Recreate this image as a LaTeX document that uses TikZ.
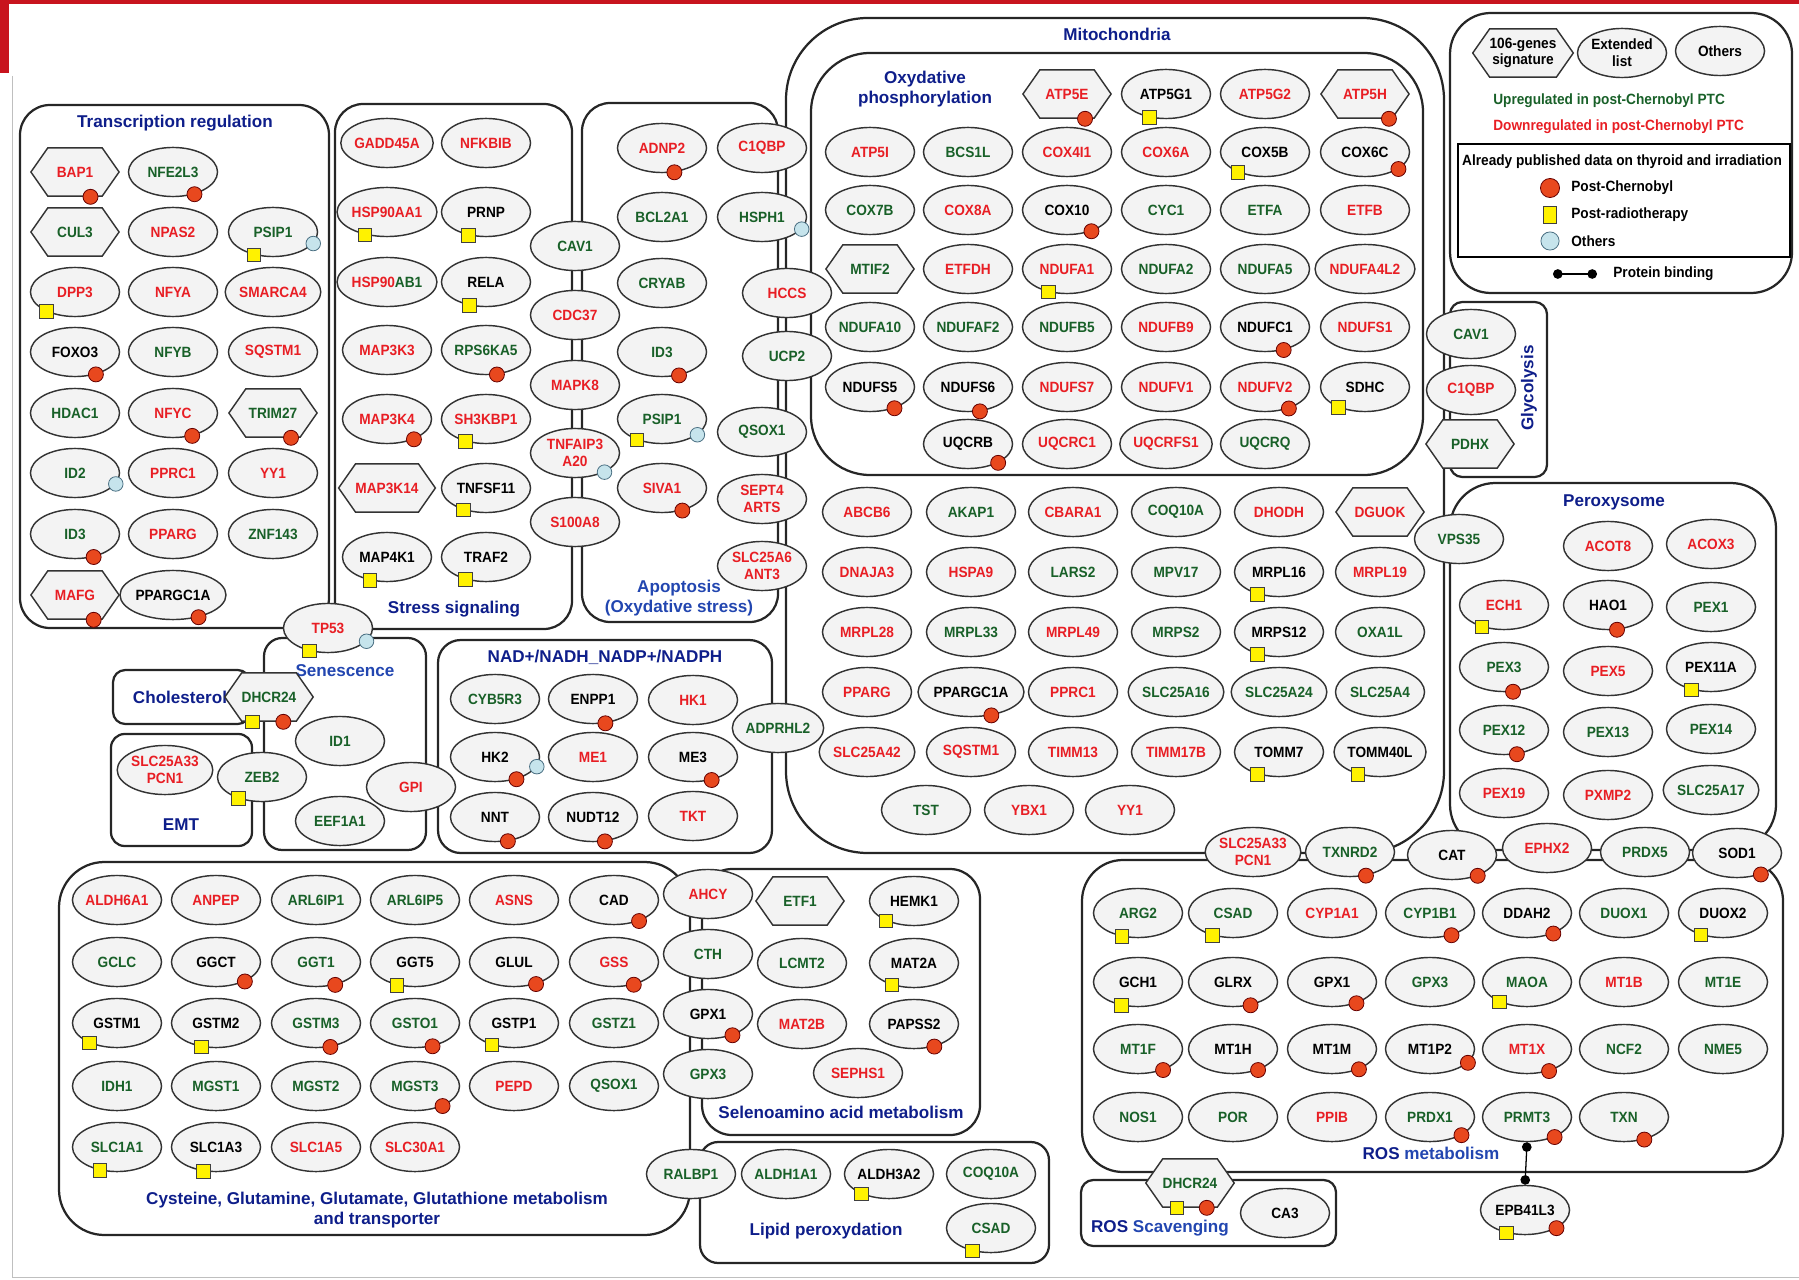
\documentclass[tikz,border=0pt]{standalone}
\usepackage{fontspec}
\setmainfont{Liberation Sans}
\newfontfamily\genefont{Liberation Sans}[FakeStretch=0.92]
\usetikzlibrary{shapes.geometric, shapes.symbols, arrows.meta}

\definecolor{dn}{RGB}{232,30,36}
\definecolor{up}{RGB}{24,96,40}
\colorlet{nn}{black}
\definecolor{hdblue}{RGB}{14,30,138}
\definecolor{hdblue2}{RGB}{34,70,176}
\definecolor{dotred}{RGB}{232,72,30}
\definecolor{dotblue}{RGB}{198,228,236}
\definecolor{ovfill}{RGB}{243,243,243}
\definecolor{pagered}{RGB}{200,20,30}

\begin{document}
\begin{tikzpicture}[
  x=0.022cm, y=-0.022cm,
  gene/.style = {ellipse, draw=black!80, fill=ovfill, line width=0.9pt, minimum width=1.96cm, minimum height=1.08cm, inner sep=0pt, align=center, font=\genefont\fontsize{9.3}{10.5}\selectfont\bfseries},
  hexg/.style = {gene, signal, signal to=east and west, signal pointer angle=110, minimum width=1.94cm, minimum height=1.06cm},
  grp/.style  = {draw=black!85, line width=1.4pt},
  hd/.style   = {text=hdblue, align=center, inner sep=0pt, font=\fontsize{10.7}{12.5}\selectfont\bfseries},
  lgt/.style  = {anchor=west, inner sep=0pt, font=\genefont\fontsize{9.3}{10.5}\selectfont\bfseries},
  rdot/.style = {circle, draw=red!40!black, fill=dotred, line width=0.5pt, minimum size=0.33cm, inner sep=0pt},
  ysq/.style  = {rectangle, draw=black!75, fill=yellow, line width=0.5pt, minimum width=0.3cm, minimum height=0.3cm, inner sep=0pt},
  bdot/.style = {circle, draw=black!55!cyan, fill=dotblue, line width=0.5pt, minimum size=0.32cm, inner sep=0pt},
  bind/.style = {{Circle[length=6pt]}-{Circle[length=6pt]}, line width=0.8pt},
]
  \useasboundingbox (0,0) rectangle (1799,1280);
  % page frame
  \fill[pagered] (0,0) rectangle (1799,4);
  \fill[pagered] (0,0) rectangle (9,73);
  \draw[black!25, line width=0.6pt] (12,76) -- (12,1277) -- (1799,1277);

  % group boxes
  \draw[grp, rounded corners=0.66cm] (20,105) rectangle (329,628);
  \draw[grp, rounded corners=0.62cm] (335,104) rectangle (572,629);
  \draw[grp, rounded corners=0.62cm] (582,103) rectangle (778,622);
  \draw[grp, rounded corners=1.8cm]  (786,18) rectangle (1444,853);
  \draw[grp, rounded corners=1.3cm]  (811,53) rectangle (1423,475);
  \draw[grp, rounded corners=0.27cm] (1450,302) rectangle (1547,477);
  \draw[grp, rounded corners=0.9cm]  (1450,13) rectangle (1792,293);
  \draw[line width=1pt]              (1458,144) rectangle (1790,257);
  \draw[grp, rounded corners=1.0cm]  (1450,483) rectangle (1776,850);
  \draw[grp, rounded corners=0.9cm]  (1082,860) rectangle (1783,1172);
  \draw[grp, rounded corners=0.27cm] (1081,1180) rectangle (1336,1246);
  \draw[grp, rounded corners=0.4cm]  (264,638) rectangle (426,850);
  \draw[grp, rounded corners=0.27cm] (113,670) rectangle (250,724);
  \draw[grp, rounded corners=0.3cm]  (111,734) rectangle (252,846);
  \draw[grp, rounded corners=0.5cm]  (438,640) rectangle (772,853);
  \draw[grp, rounded corners=1.0cm]  (59,862) rectangle (690,1235);
  \draw[grp, rounded corners=0.66cm] (702,869) rectangle (980,1135);
  \draw[grp, rounded corners=0.4cm]  (700,1142) rectangle (1049,1263);

  % group titles
  \node[hd] (t-tr) at (175,123)  {Transcription regulation};
  \node[hd] (t-ss) at (454,609)  {Stress signaling};
  \node[hd, text=hdblue2] (t-ap) at (679,598) {Apoptosis\\(Oxydative stress)};
  \node[hd] (t-mi) at (1117,34)  {Mitochondria};
  \node[hd] (t-ox) at (925,89)   {Oxydative\\phosphorylation};
  \node[hd, rotate=90] (t-gl) at (1529,388) {Glycolysis};
  \node[hd] (t-px) at (1614,502) {Peroxysome};
  \node[hd] (t-ro) at (1431,1153) {ROS \textcolor{hdblue2}{metabolism}};
  \node[hd] (t-sc) at (1160,1228) {ROS \textcolor{hdblue2}{Scavenging}};
  \node[hd, text=hdblue2] (t-sn) at (345,671) {Senescence};
  \node[hd] (t-ch) at (180,697)  {Cholesterol};
  \node[hd] (t-em) at (181,825)  {EMT};
  \node[hd] (t-na) at (605,657)  {NAD+/NADH\_NADP+/NADPH};
  \node[hd] (t-cg) at (377,1210) {Cysteine, Glutamine, Glutamate, Glutathione metabolism\\and transporter};
  \node[hd] (t-se) at (841,1112) {Selenoamino acid metabolism};
  \node[hd] (t-lp) at (826,1231) {Lipid peroxydation};

  % transcription regulation
  \foreach \n/\x/\y/\cl in {NFE2L3/173/172/up, NPAS2/173/232/dn, PSIP1/273/232/up, DPP3/75/292/dn, NFYA/173/292/dn, SMARCA4/273/292/dn,
      FOXO3/75/352/nn, NFYB/173/352/up, SQSTM1/273/352/dn, HDAC1/75/413/up, NFYC/173/413/dn, ID2/75/473/up, PPRC1/173/473/dn,
      YY1/273/473/dn, ID3/75/534/up, PPARG/173/534/dn, ZNF143/273/534/up, PPARGC1A/173/595/nn}
    \node[gene, text=\cl] (tr-\n) at (\x,\y) {\n};
  \foreach \n/\x/\y/\cl in {BAP1/75/172/dn, CUL3/75/232/up, TRIM27/273/413/up, MAFG/75/595/dn}
    \node[hexg, text=\cl] (tr-\n) at (\x,\y) {\n};

  % stress signaling
  \foreach \n/\x/\y/\cl in {GADD45A/387/143/dn, NFKBIB/486/143/dn, HSP90AA1/387/212/dn, PRNP/486/212/nn, RELA/486/282/nn,
      MAP3K3/387/350/dn, RPS6KA5/486/350/up, MAP3K4/387/419/dn, SH3KBP1/486/419/dn, TNFSF11/486/488/nn,
      MAP4K1/387/557/nn, TRAF2/486/557/nn}
    \node[gene, text=\cl] (ss-\n) at (\x,\y) {\n};
  \node[gene] (ss-HSP90AB1) at (387,282) {\textcolor{dn}{HSP90}\textcolor{up}{AB1}};
  \node[hexg, text=dn] (ss-MAP3K14) at (387,488) {MAP3K14};
  \foreach \n/\y/\cl in {CAV1/246/up, CDC37/315/dn, MAPK8/385/dn, S100A8/522/dn}
    \node[gene, text=\cl] (sh-\n) at (575,\y) {\n};
  \node[gene, text=dn] (sh-TNFAIP3) at (575,453) {TNFAIP3\\A20};

  % apoptosis
  \foreach \n/\x/\y/\cl in {ADNP2/662/148/dn, C1QBP/762/148/dn, BCL2A1/662/217/up, HSPH1/762/217/up, CRYAB/662/283/up,
      HCCS/787/293/dn, ID3/662/352/up, UCP2/787/356/up, PSIP1/662/419/up, QSOX1/762/432/up, SIVA1/662/488/dn}
    \node[gene, text=\cl] (ap-\n) at (\x,\y) {\n};
  \node[gene, text=dn] (ap-SEPT4)   at (762,499) {SEPT4\\ARTS};
  \node[gene, text=dn] (ap-SLC25A6) at (762,566) {SLC25A6\\ANT3};

  % oxydative phosphorylation
  \foreach \n/\x/\y/\cl in {ATP5G1/1166/94/nn, ATP5G2/1265/94/dn,
      ATP5I/870/152/dn, BCS1L/968/152/up, COX4I1/1067/152/dn, COX6A/1166/152/dn, COX5B/1265/152/nn, COX6C/1365/152/nn,
      COX7B/870/210/up, COX8A/968/210/dn, COX10/1067/210/nn, CYC1/1166/210/up, ETFA/1265/210/up, ETFB/1365/210/dn,
      ETFDH/968/269/dn, NDUFA1/1067/269/dn, NDUFA2/1166/269/up, NDUFA5/1265/269/up, NDUFA4L2/1365/269/dn,
      NDUFA10/870/327/up, NDUFAF2/968/327/up, NDUFB5/1067/327/up, NDUFB9/1166/327/dn, NDUFC1/1265/327/nn, NDUFS1/1365/327/dn,
      NDUFS5/870/387/nn, NDUFS6/968/387/nn, NDUFS7/1067/387/dn, NDUFV1/1166/387/dn, NDUFV2/1265/387/dn, SDHC/1365/387/nn,
      UQCRB/968/444/nn, UQCRC1/1067/444/dn, UQCRFS1/1166/444/dn, UQCRQ/1265/444/up}
    \node[gene, text=\cl] (ox-\n) at (\x,\y) {\n};
  \foreach \n/\x/\y/\cl in {ATP5E/1067/94/dn, ATP5H/1365/94/dn, MTIF2/870/269/up}
    \node[hexg, text=\cl] (ox-\n) at (\x,\y) {\n};

  % mitochondria
  \foreach \n/\x/\y/\cl in {ABCB6/867/512/dn, AKAP1/971/512/up, CBARA1/1073/512/dn, COQ10A/1176/512/up, DHODH/1279/512/dn,
      DNAJA3/867/572/dn, HSPA9/971/572/dn, LARS2/1073/572/up, MPV17/1176/572/up, MRPL16/1279/572/nn, MRPL19/1380/572/dn,
      MRPL28/867/632/dn, MRPL33/971/632/up, MRPL49/1073/632/dn, MRPS2/1176/632/up, MRPS12/1279/632/nn, OXA1L/1380/632/up,
      PPARG/867/692/dn, PPARGC1A/971/692/nn, PPRC1/1073/692/dn, SLC25A16/1176/692/up, SLC25A24/1279/692/up, SLC25A4/1380/692/up,
      SLC25A42/867/752/dn, SQSTM1/971/752/dn, TIMM13/1073/752/dn, TIMM17B/1176/752/dn, TOMM7/1279/752/nn, TOMM40L/1380/752/nn,
      TST/926/810/up, YBX1/1029/810/dn, YY1/1130/810/dn, ADPRHL2/778/728/up}
    \node[gene, text=\cl] (mi-\n) at (\x,\y) {\n};
  \node[hexg, text=dn] (mi-DGUOK) at (1380,512) {DGUOK};

  % glycolysis
  \node[gene, text=up] (gl-CAV1)  at (1471,334) {CAV1};
  \node[gene, text=dn] (gl-C1QBP) at (1471,390) {C1QBP};
  \node[hexg, text=up] (gl-PDHX)  at (1470,444) {PDHX};

  % peroxysome
  \foreach \n/\x/\y/\cl in {ACOT8/1608/546/dn, ACOX3/1711/544/dn, ECH1/1504/605/dn, HAO1/1608/605/nn, PEX1/1711/607/up,
      PEX3/1504/667/up, PEX5/1608/671/dn, PEX11A/1711/667/nn, PEX12/1504/730/up, PEX13/1608/732/up, PEX14/1711/729/up,
      PEX19/1504/793/dn, PXMP2/1608/795/dn, SLC25A17/1711/790/up, VPS35/1459/539/up}
    \node[gene, text=\cl] (px-\n) at (\x,\y) {\n};

  % ROS metabolism
  \node[gene, text=dn] (ro-SLC25A33) at (1253,852) {SLC25A33\\PCN1};
  \foreach \n/\x/\y/\cl in {TXNRD2/1350/852/up, CAT/1452/855/nn, EPHX2/1547/848/dn, PRDX5/1645/852/up, SOD1/1737/853/nn,
      ARG2/1138/913/up, CSAD/1233/913/up, CYP1A1/1332/913/dn, CYP1B1/1430/913/up, DDAH2/1527/913/nn, DUOX1/1624/913/up, DUOX2/1723/913/nn,
      GCH1/1138/982/nn, GLRX/1233/982/nn, GPX1/1332/982/nn, GPX3/1430/982/up, MAOA/1527/982/up, MT1B/1624/982/dn, MT1E/1723/982/up,
      MT1F/1138/1049/up, MT1H/1233/1049/nn, MT1M/1332/1049/nn, MT1P2/1430/1049/nn, MT1X/1527/1049/dn, NCF2/1624/1049/up, NME5/1723/1049/up,
      NOS1/1138/1117/up, POR/1233/1117/up, PPIB/1332/1117/dn, PRDX1/1430/1117/up, PRMT3/1527/1117/up, TXN/1624/1117/up,
      EPB41L3/1525/1210/nn}
    \node[gene, text=\cl] (ro-\n) at (\x,\y) {\n};
  \draw[bind] (ro-PRMT3.south) -- (ro-EPB41L3.north);
  \node[hexg, text=up] (sc-DHCR24) at (1190,1183) {DHCR24};
  \node[gene] (sc-CA3) at (1285,1213) {CA3};

  % senescence, cholesterol, EMT
  \node[gene, text=dn] (sn-TP53)     at (328,628) {TP53};
  \node[hexg, text=up] (ch-DHCR24)   at (269,697) {DHCR24};
  \node[gene, text=up] (sn-ID1)      at (340,741) {ID1};
  \node[gene, text=dn] (em-SLC25A33) at (165,770) {SLC25A33\\PCN1};
  \node[gene, text=up] (sn-ZEB2)     at (262,777) {ZEB2};
  \node[gene, text=dn] (sn-GPI)      at (411,787) {GPI};
  \node[gene, text=up] (sn-EEF1A1)   at (340,821) {EEF1A1};

  % NAD+/NADH
  \foreach \n/\x/\y/\cl in {CYB5R3/495/699/up, ENPP1/593/699/nn, HK1/693/700/dn, HK2/495/757/nn, ME1/593/757/dn,
      ME3/693/757/nn, NNT/495/817/nn, NUDT12/593/817/nn, TKT/693/816/dn}
    \node[gene, text=\cl] (na-\n) at (\x,\y) {\n};

  % cysteine, glutamine, glutamate, glutathione
  \foreach \n/\x/\y/\cl in {ALDH6A1/117/900/dn, ANPEP/216/900/dn, ARL6IP1/316/900/up, ARL6IP5/415/900/up, ASNS/514/900/dn, CAD/614/900/nn,
      GCLC/117/962/up, GGCT/216/962/nn, GGT1/316/962/up, GGT5/415/962/nn, GLUL/514/962/nn, GSS/614/962/dn,
      GSTM1/117/1023/nn, GSTM2/216/1023/nn, GSTM3/316/1023/up, GSTO1/415/1023/up, GSTP1/514/1023/nn, GSTZ1/614/1023/up,
      IDH1/117/1086/up, MGST1/216/1086/up, MGST2/316/1086/up, MGST3/415/1086/up, PEPD/514/1086/dn, QSOX1/614/1086/up,
      SLC1A1/117/1147/up, SLC1A3/216/1147/nn, SLC1A5/316/1147/dn, SLC30A1/415/1147/dn}
    \node[gene, text=\cl] (cg-\n) at (\x,\y) {\n};

  % selenoamino acid, lipid peroxydation
  \foreach \n/\x/\y/\cl in {AHCY/708/894/dn, CTH/708/954/up, GPX1/708/1014/nn, GPX3/708/1074/up, HEMK1/914/901/nn,
      LCMT2/802/963/up, MAT2A/914/963/nn, MAT2B/802/1024/dn, PAPSS2/914/1024/nn, SEPHS1/858/1073/dn}
    \node[gene, text=\cl] (se-\n) at (\x,\y) {\n};
  \node[hexg, text=up] (se-ETF1) at (800,901) {ETF1};
  \foreach \n/\x/\y/\cl in {RALBP1/691/1174/up, ALDH1A1/786/1174/up, ALDH3A2/889/1174/nn, COQ10A/991/1174/up, CSAD/991/1228/up}
    \node[gene, text=\cl] (lp-\n) at (\x,\y) {\n};

  % legend
  \node[hexg, minimum width=2.15cm] (lg-sig) at (1523,53) {106-genes\\signature};
  \node[gene] (lg-ext) at (1622,53) {Extended\\list};
  \node[gene] (lg-oth) at (1720,51) {Others};
  \node[lgt, text=up] (lg-up) at (1493,101) {Upregulated in post-Chernobyl PTC};
  \node[lgt, text=dn] (lg-dn) at (1493,127) {Downregulated in post-Chernobyl PTC};
  \node[lgt, anchor=center] (lg-pub) at (1622,162) {Already published data on thyroid and irradiation};
  \node[rdot, minimum size=0.42cm] (lg-r) at (1550,188) {};
  \node[lgt] (lg-rt) at (1571,188) {Post-Chernobyl};
  \node[ysq, minimum height=0.36cm] (lg-y) at (1550,215) {};
  \node[lgt] (lg-yt) at (1571,215) {Post-radiotherapy};
  \node[bdot, minimum size=0.4cm] (lg-b) at (1550,241) {};
  \node[lgt] (lg-bt) at (1571,241) {Others};
  \coordinate (lg-p1) at (1553,274);
  \coordinate (lg-p2) at (1597,274);
  \draw[bind] (lg-p1) -- (lg-p2);
  \node[lgt] (lg-pt) at (1613,274) {Protein binding};

  % markers: post-Chernobyl, post-radiotherapy, others
  \foreach \p/\a in {tr-BAP1/-58, tr-NFE2L3/-46, tr-FOXO3/-47, tr-NFYC/-50, tr-TRIM27/-54, tr-ID3/-51, tr-MAFG/-53, tr-PPARGC1A/-41,
      ss-RPS6KA5/-66, ss-MAP3K4/-37, ap-ADNP2/-63, ap-ID3/-54, ap-SIVA1/-48,
      ox-ATP5E/-54, ox-ATP5H/-46, ox-COX6C/-27, ox-COX10/-41, ox-NDUFC1/-51, ox-NDUFS5/-41, ox-NDUFS6/-64, ox-NDUFV2/-42, ox-UQCRB/-32,
      mi-PPARGC1A/-49, px-HAO1/-70, px-PEX3/-70, px-PEX12/-62,
      ro-TXNRD2/-56, ro-CAT/-39, ro-SOD1/-42, ro-CYP1B1/-46, ro-DDAH2/-38, ro-GLRX/-53, ro-GPX1/-41, ro-MT1F/-40, ro-MT1H/-40,
      ro-MT1M/-37, ro-MT1P2/-20, ro-MT1X/-45, ro-PRDX1/-30, ro-PRMT3/-36, ro-TXN/-48, ro-EPB41L3/-30,
      sc-DHCR24/-56, ch-DHCR24/-60, na-ENPP1/-63, na-HK2/-46, na-ME3/-51, na-NNT/-62, na-NUDT12/-64,
      cg-CAD/-40, cg-GGCT/-34, cg-GGT1/-50, cg-GLUL/-45, cg-GSS/-49, cg-GSTM3/-59, cg-GSTO1/-53, cg-MGST3/-36,
      se-GPX1/-41, se-PAPSS2/-48}
    \node[rdot] (r-\p) at (\p.\a) {};
  \foreach \p/\a in {tr-PSIP1/-130, tr-DPP3/-146, ss-HSP90AA1/-134, ss-PRNP/-127, ss-RELA/-125, ss-SH3KBP1/-132, ss-TNFSF11/-136,
      ss-MAP4K1/-126, ss-TRAF2/-132, ap-PSIP1/-140, ox-ATP5G1/-125, ox-COX5B/-143, ox-NDUFA1/-129, ox-SDHC/-143,
      mi-MRPL16/-134, mi-MRPS12/-134, mi-TOMM7/-134, mi-TOMM40L/-135, px-ECH1/-135, px-PEX11A/-131,
      ro-ARG2/-124, ro-CSAD/-132, ro-DUOX2/-135, ro-GCH1/-125, ro-MAOA/-144, ro-EPB41L3/-129,
      sn-TP53/-129, sn-ZEB2/-138, ch-DHCR24/-124, sc-DHCR24/-118,
      cg-GGT5/-128, cg-GSTM1/-144, cg-GSTM2/-122, cg-GSTP1/-135, cg-SLC1A1/-126, cg-SLC1A3/-117,
      se-HEMK1/-145, se-MAT2A/-135, lp-ALDH3A2/-144, lp-CSAD/-129}
    \node[ysq] (y-\p) at (\p.\a) {};
  \foreach \p/\a in {tr-PSIP1/-16, tr-ID2/-15, sh-TNFAIP3/-33, ap-HSPH1/-17, ap-PSIP1/-24, sn-TP53/-19, na-HK2/-13}
    \node[bdot] (b-\p) at (\p.\a) {};
\end{tikzpicture}
\end{document}
